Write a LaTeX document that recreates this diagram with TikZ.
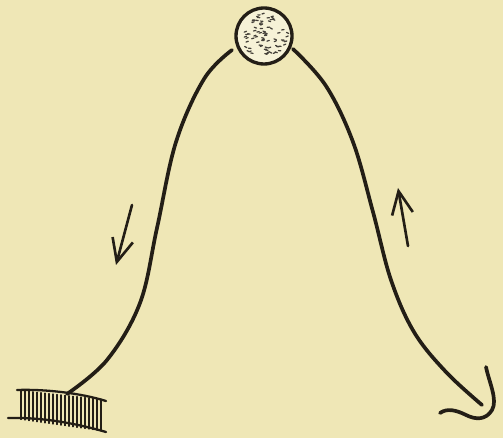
\documentclass[tikz,border=0pt]{standalone}
\usetikzlibrary{arrows.meta}
\definecolor{paper}{RGB}{239,231,182}
\definecolor{ink}{RGB}{35,30,22}
\begin{document}
\begin{tikzpicture}[x=0.02cm,y=-0.02cm,line cap=round,line join=round,
  wire/.style={ink,line width=2.1pt},
  flow/.style={ink,line width=1.5pt,-{Straight Barb[length=0.46cm,width=0.42cm,line width=1.5pt]}},
  hatch/.style={ink,line width=0.6pt}]
\fill[paper] (0,0) rectangle (503,438);
\useasboundingbox (0,0) rectangle (503,438);

% the bob at the top
\node[circle,draw=ink,line width=1.9pt,minimum size=1.12cm,inner sep=0pt,fill=paper!55!white] (bob) at (264,36) {};
\pgfmathsetseed{11}
\foreach \i in {1,...,75}{
  \pgfmathsetmacro\rr{23*sqrt(rnd)}
  \pgfmathsetmacro\aa{360*rnd}
  \pgfmathsetmacro\tt{-30+60*rnd}
  \draw[ink!85,line width=0.7pt,shift={(bob.center)}] (\aa:\rr) -- ++(\tt:2.4);
}

% the fixed support at the lower left
\coordinate (foot) at (67,394);
\draw[ink,line width=1.3pt] (17,390) .. controls (45,389) and (80,393) .. (106,401);
\draw[ink,line width=1.3pt] (8,418) .. controls (40,417) and (75,423) .. (106,432);
\foreach \x in {21,25,...,101}
  \draw[hatch] (\x,{390+0.11*(\x-17)}) -- (\x,{418+0.14*(\x-10)});

% the free end with its hook
\coordinate (tip) at (482,405);

% the thread over the bob
\draw[wire] plot[smooth,tension=0.6] coordinates {
  (foot) (107,360) (140,303) (157,228) (176,142) (204,79) (232,50)};
\draw[wire] plot[smooth,tension=0.6] coordinates {
  (293,49) (326,86) (353,142) (373,212) (391,280) (414,332) (446,372) (tip)};
\draw[wire] (486,367) .. controls (489,382) and (498,400) .. (492,410)
  .. controls (486,420) and (476,420) .. (466,415)
  .. controls (456,410) and (447,408) .. (440,413);

% direction of motion
\coordinate (l1) at (132,205); \coordinate (l2) at (116,265);
\coordinate (r1) at (408,246); \coordinate (r2) at (398,188);
\draw[flow] (l1) -- (l2);
\draw[flow] (r1) -- (r2);
\end{tikzpicture}
\end{document}
